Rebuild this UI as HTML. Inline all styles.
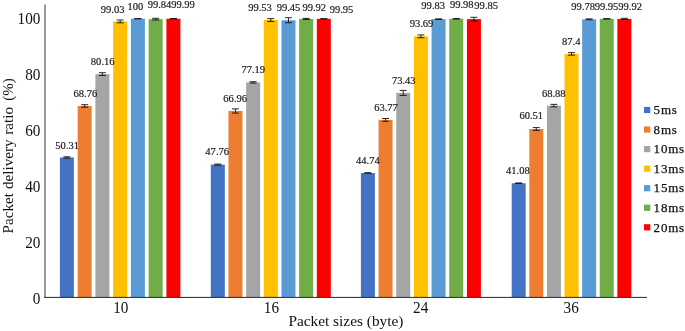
<!DOCTYPE html><html><head><meta charset="utf-8"><style>html,body{margin:0;padding:0;background:#fff}svg{display:block;will-change:transform}</style></head><body><svg width="685" height="331" viewBox="0 0 685 331">
<rect width="685" height="331" fill="#fff"/>
<rect x="59.90" y="157.48" width="14" height="139.52" fill="#4472C4"/>
<rect x="77.65" y="105.95" width="14" height="191.05" fill="#ED7D31"/>
<rect x="95.40" y="74.11" width="14" height="222.89" fill="#A5A5A5"/>
<rect x="113.15" y="21.41" width="14" height="275.59" fill="#FFC000"/>
<rect x="130.90" y="18.70" width="14" height="278.30" fill="#5B9BD5"/>
<rect x="148.65" y="19.15" width="14" height="277.85" fill="#70AD47"/>
<rect x="166.40" y="18.73" width="14" height="278.27" fill="#FF0000"/>
<rect x="210.80" y="164.61" width="14" height="132.39" fill="#4472C4"/>
<rect x="228.47" y="110.98" width="14" height="186.02" fill="#ED7D31"/>
<rect x="246.14" y="82.41" width="14" height="214.59" fill="#A5A5A5"/>
<rect x="263.81" y="20.01" width="14" height="276.99" fill="#FFC000"/>
<rect x="281.48" y="20.24" width="14" height="276.76" fill="#5B9BD5"/>
<rect x="299.15" y="18.92" width="14" height="278.08" fill="#70AD47"/>
<rect x="316.82" y="18.84" width="14" height="278.16" fill="#FF0000"/>
<rect x="360.90" y="173.04" width="14" height="123.96" fill="#4472C4"/>
<rect x="378.57" y="119.89" width="14" height="177.11" fill="#ED7D31"/>
<rect x="396.24" y="92.91" width="14" height="204.09" fill="#A5A5A5"/>
<rect x="413.91" y="36.32" width="14" height="260.68" fill="#FFC000"/>
<rect x="431.58" y="19.17" width="14" height="277.83" fill="#5B9BD5"/>
<rect x="449.25" y="18.76" width="14" height="278.24" fill="#70AD47"/>
<rect x="466.92" y="19.12" width="14" height="277.88" fill="#FF0000"/>
<rect x="511.70" y="183.26" width="14" height="113.74" fill="#4472C4"/>
<rect x="529.31" y="129.00" width="14" height="168.00" fill="#ED7D31"/>
<rect x="546.92" y="105.62" width="14" height="191.38" fill="#A5A5A5"/>
<rect x="564.53" y="53.89" width="14" height="243.11" fill="#FFC000"/>
<rect x="582.14" y="19.31" width="14" height="277.69" fill="#5B9BD5"/>
<rect x="599.75" y="18.84" width="14" height="278.16" fill="#70AD47"/>
<rect x="617.36" y="18.92" width="14" height="278.08" fill="#FF0000"/>
<path d="M66.90 156.79V158.18M63.40 156.79H70.40M63.40 158.18H70.40" stroke="#111" stroke-width="0.9" fill="none"/>
<text transform="translate(67.20,148.50) scale(0.94,1)" font-family="Liberation Serif, serif" font-size="11.2" fill="#1a1a1a" stroke="#1a1a1a" stroke-width="0.2" text-anchor="middle">50.31</text>
<path d="M84.65 104.70V107.21M81.15 104.70H88.15M81.15 107.21H88.15" stroke="#111" stroke-width="0.9" fill="none"/>
<text transform="translate(85.35,96.80) scale(0.94,1)" font-family="Liberation Serif, serif" font-size="11.2" fill="#1a1a1a" stroke="#1a1a1a" stroke-width="0.2" text-anchor="middle">68.76</text>
<path d="M102.40 72.72V75.51M98.90 72.72H105.90M98.90 75.51H105.90" stroke="#111" stroke-width="0.9" fill="none"/>
<text transform="translate(102.70,65.20) scale(0.94,1)" font-family="Liberation Serif, serif" font-size="11.2" fill="#1a1a1a" stroke="#1a1a1a" stroke-width="0.2" text-anchor="middle">80.16</text>
<path d="M120.15 20.01V22.81M116.65 20.01H123.65M116.65 22.81H123.65" stroke="#111" stroke-width="0.9" fill="none"/>
<text transform="translate(112.65,12.80) scale(0.94,1)" font-family="Liberation Serif, serif" font-size="11.2" fill="#1a1a1a" stroke="#1a1a1a" stroke-width="0.2" text-anchor="middle">99.03</text>
<path d="M137.90 18.70V18.70M134.40 18.70H141.40M134.40 18.70H141.40" stroke="#111" stroke-width="0.9" fill="none"/>
<text transform="translate(135.45,10.00) scale(0.94,1)" font-family="Liberation Serif, serif" font-size="11.2" fill="#1a1a1a" stroke="#1a1a1a" stroke-width="0.2" text-anchor="middle">100</text>
<path d="M155.65 18.31V19.98M152.15 18.31H159.15M152.15 19.98H159.15" stroke="#111" stroke-width="0.9" fill="none"/>
<text transform="translate(159.50,8.10) scale(0.94,1)" font-family="Liberation Serif, serif" font-size="11.2" fill="#1a1a1a" stroke="#1a1a1a" stroke-width="0.2" text-anchor="middle">99.84</text>
<path d="M173.40 18.73V18.73M169.90 18.73H176.90M169.90 18.73H176.90" stroke="#111" stroke-width="0.9" fill="none"/>
<text transform="translate(183.00,8.10) scale(0.94,1)" font-family="Liberation Serif, serif" font-size="11.2" fill="#1a1a1a" stroke="#1a1a1a" stroke-width="0.2" text-anchor="middle">99.99</text>
<path d="M217.80 164.05V165.16M214.30 164.05H221.30M214.30 165.16H221.30" stroke="#111" stroke-width="0.9" fill="none"/>
<text transform="translate(217.20,155.00) scale(0.94,1)" font-family="Liberation Serif, serif" font-size="11.2" fill="#1a1a1a" stroke="#1a1a1a" stroke-width="0.2" text-anchor="middle">47.76</text>
<path d="M235.47 108.89V113.08M231.97 108.89H238.97M231.97 113.08H238.97" stroke="#111" stroke-width="0.9" fill="none"/>
<text transform="translate(235.20,101.50) scale(0.94,1)" font-family="Liberation Serif, serif" font-size="11.2" fill="#1a1a1a" stroke="#1a1a1a" stroke-width="0.2" text-anchor="middle">66.96</text>
<path d="M253.14 81.71V83.11M249.64 81.71H256.64M249.64 83.11H256.64" stroke="#111" stroke-width="0.9" fill="none"/>
<text transform="translate(253.30,73.00) scale(0.94,1)" font-family="Liberation Serif, serif" font-size="11.2" fill="#1a1a1a" stroke="#1a1a1a" stroke-width="0.2" text-anchor="middle">77.19</text>
<path d="M270.81 18.62V21.41M267.31 18.62H274.31M267.31 21.41H274.31" stroke="#111" stroke-width="0.9" fill="none"/>
<text transform="translate(260.00,11.30) scale(0.94,1)" font-family="Liberation Serif, serif" font-size="11.2" fill="#1a1a1a" stroke="#1a1a1a" stroke-width="0.2" text-anchor="middle">99.53</text>
<path d="M288.48 17.72V22.75M284.98 17.72H291.98M284.98 22.75H291.98" stroke="#111" stroke-width="0.9" fill="none"/>
<text transform="translate(288.50,11.30) scale(0.94,1)" font-family="Liberation Serif, serif" font-size="11.2" fill="#1a1a1a" stroke="#1a1a1a" stroke-width="0.2" text-anchor="middle">99.45</text>
<path d="M306.15 18.36V19.48M302.65 18.36H309.65M302.65 19.48H309.65" stroke="#111" stroke-width="0.9" fill="none"/>
<text transform="translate(314.30,11.30) scale(0.94,1)" font-family="Liberation Serif, serif" font-size="11.2" fill="#1a1a1a" stroke="#1a1a1a" stroke-width="0.2" text-anchor="middle">99.92</text>
<path d="M323.82 18.84V18.84M320.32 18.84H327.32M320.32 18.84H327.32" stroke="#111" stroke-width="0.9" fill="none"/>
<text transform="translate(341.50,12.90) scale(0.94,1)" font-family="Liberation Serif, serif" font-size="11.2" fill="#1a1a1a" stroke="#1a1a1a" stroke-width="0.2" text-anchor="middle">99.95</text>
<path d="M367.90 172.76V173.32M364.40 172.76H371.40M364.40 173.32H371.40" stroke="#111" stroke-width="0.9" fill="none"/>
<text transform="translate(367.90,163.80) scale(0.94,1)" font-family="Liberation Serif, serif" font-size="11.2" fill="#1a1a1a" stroke="#1a1a1a" stroke-width="0.2" text-anchor="middle">44.74</text>
<path d="M385.57 118.49V121.29M382.07 118.49H389.07M382.07 121.29H389.07" stroke="#111" stroke-width="0.9" fill="none"/>
<text transform="translate(386.00,110.70) scale(0.94,1)" font-family="Liberation Serif, serif" font-size="11.2" fill="#1a1a1a" stroke="#1a1a1a" stroke-width="0.2" text-anchor="middle">63.77</text>
<path d="M403.24 90.40V95.42M399.74 90.40H406.74M399.74 95.42H406.74" stroke="#111" stroke-width="0.9" fill="none"/>
<text transform="translate(403.80,83.80) scale(0.94,1)" font-family="Liberation Serif, serif" font-size="11.2" fill="#1a1a1a" stroke="#1a1a1a" stroke-width="0.2" text-anchor="middle">73.43</text>
<path d="M420.91 34.93V37.72M417.41 34.93H424.41M417.41 37.72H424.41" stroke="#111" stroke-width="0.9" fill="none"/>
<text transform="translate(421.50,26.60) scale(0.94,1)" font-family="Liberation Serif, serif" font-size="11.2" fill="#1a1a1a" stroke="#1a1a1a" stroke-width="0.2" text-anchor="middle">93.69</text>
<path d="M438.58 18.90V19.45M435.08 18.90H442.08M435.08 19.45H442.08" stroke="#111" stroke-width="0.9" fill="none"/>
<text transform="translate(433.20,8.70) scale(0.94,1)" font-family="Liberation Serif, serif" font-size="11.2" fill="#1a1a1a" stroke="#1a1a1a" stroke-width="0.2" text-anchor="middle">99.83</text>
<path d="M456.25 18.48V19.04M452.75 18.48H459.75M452.75 19.04H459.75" stroke="#111" stroke-width="0.9" fill="none"/>
<text transform="translate(461.80,8.20) scale(0.94,1)" font-family="Liberation Serif, serif" font-size="11.2" fill="#1a1a1a" stroke="#1a1a1a" stroke-width="0.2" text-anchor="middle">99.98</text>
<path d="M473.92 17.30V20.93M470.42 17.30H477.42M470.42 20.93H477.42" stroke="#111" stroke-width="0.9" fill="none"/>
<text transform="translate(486.20,8.70) scale(0.94,1)" font-family="Liberation Serif, serif" font-size="11.2" fill="#1a1a1a" stroke="#1a1a1a" stroke-width="0.2" text-anchor="middle">99.85</text>
<path d="M518.70 182.98V183.54M515.20 182.98H522.20M515.20 183.54H522.20" stroke="#111" stroke-width="0.9" fill="none"/>
<text transform="translate(517.90,174.20) scale(0.94,1)" font-family="Liberation Serif, serif" font-size="11.2" fill="#1a1a1a" stroke="#1a1a1a" stroke-width="0.2" text-anchor="middle">41.08</text>
<path d="M536.31 127.60V130.39M532.81 127.60H539.81M532.81 130.39H539.81" stroke="#111" stroke-width="0.9" fill="none"/>
<text transform="translate(531.30,119.40) scale(0.94,1)" font-family="Liberation Serif, serif" font-size="11.2" fill="#1a1a1a" stroke="#1a1a1a" stroke-width="0.2" text-anchor="middle">60.51</text>
<path d="M553.92 104.36V106.88M550.42 104.36H557.42M550.42 106.88H557.42" stroke="#111" stroke-width="0.9" fill="none"/>
<text transform="translate(553.80,96.90) scale(0.94,1)" font-family="Liberation Serif, serif" font-size="11.2" fill="#1a1a1a" stroke="#1a1a1a" stroke-width="0.2" text-anchor="middle">68.88</text>
<path d="M571.53 52.63V55.15M568.03 52.63H575.03M568.03 55.15H575.03" stroke="#111" stroke-width="0.9" fill="none"/>
<text transform="translate(571.30,44.70) scale(0.94,1)" font-family="Liberation Serif, serif" font-size="11.2" fill="#1a1a1a" stroke="#1a1a1a" stroke-width="0.2" text-anchor="middle">87.4</text>
<path d="M589.14 18.90V19.73M585.64 18.90H592.64M585.64 19.73H592.64" stroke="#111" stroke-width="0.9" fill="none"/>
<text transform="translate(583.20,10.30) scale(0.94,1)" font-family="Liberation Serif, serif" font-size="11.2" fill="#1a1a1a" stroke="#1a1a1a" stroke-width="0.2" text-anchor="middle">99.78</text>
<path d="M606.75 18.70V18.98M603.25 18.70H610.25M603.25 18.98H610.25" stroke="#111" stroke-width="0.9" fill="none"/>
<text transform="translate(606.50,10.30) scale(0.94,1)" font-family="Liberation Serif, serif" font-size="11.2" fill="#1a1a1a" stroke="#1a1a1a" stroke-width="0.2" text-anchor="middle">99.95</text>
<path d="M624.36 18.36V19.48M620.86 18.36H627.86M620.86 19.48H627.86" stroke="#111" stroke-width="0.9" fill="none"/>
<text transform="translate(630.10,10.30) scale(0.94,1)" font-family="Liberation Serif, serif" font-size="11.2" fill="#1a1a1a" stroke="#1a1a1a" stroke-width="0.2" text-anchor="middle">99.92</text>
<path d="M45.0 4.5V297.9" stroke="#4d4d4d" stroke-width="1.15" fill="none"/>
<path d="M44.4 297.4H647" stroke="#262626" stroke-width="1.0" fill="none"/>
<text transform="translate(40.4,303.90) scale(0.94,1)" font-family="Liberation Serif, serif" font-size="16.2" fill="#111" text-anchor="end">0</text>
<text transform="translate(40.4,247.90) scale(0.94,1)" font-family="Liberation Serif, serif" font-size="16.2" fill="#111" text-anchor="end">20</text>
<text transform="translate(40.4,191.90) scale(0.94,1)" font-family="Liberation Serif, serif" font-size="16.2" fill="#111" text-anchor="end">40</text>
<text transform="translate(40.4,135.90) scale(0.94,1)" font-family="Liberation Serif, serif" font-size="16.2" fill="#111" text-anchor="end">60</text>
<text transform="translate(40.4,79.90) scale(0.94,1)" font-family="Liberation Serif, serif" font-size="16.2" fill="#111" text-anchor="end">80</text>
<text transform="translate(40.4,23.90) scale(0.94,1)" font-family="Liberation Serif, serif" font-size="16.2" fill="#111" text-anchor="end">100</text>
<text transform="translate(120.75,312.7) scale(0.94,1)" font-family="Liberation Serif, serif" font-size="16.2" fill="#111" text-anchor="middle">10</text>
<text transform="translate(271.41,312.7) scale(0.94,1)" font-family="Liberation Serif, serif" font-size="16.2" fill="#111" text-anchor="middle">16</text>
<text transform="translate(420.71,312.7) scale(0.94,1)" font-family="Liberation Serif, serif" font-size="16.2" fill="#111" text-anchor="middle">24</text>
<text transform="translate(571.13,312.7) scale(0.94,1)" font-family="Liberation Serif, serif" font-size="16.2" fill="#111" text-anchor="middle">36</text>
<text x="345.9" y="326" font-family="Liberation Serif, serif" font-size="15.35" fill="#111" text-anchor="middle">Packet sizes (byte)</text>
<text transform="translate(12.9,233.4) rotate(-90)" font-family="Liberation Serif, serif" font-size="15.1" fill="#111">Packet<tspan dx="0.4"> delivery</tspan><tspan dx="1.1"> ratio</tspan><tspan dx="2.4"> (%)</tspan></text>
<rect x="644" y="106.90" width="6.3" height="6.2" fill="#4472C4"/>
<text x="653.6" y="114.20" font-family="Liberation Serif, serif" font-size="13" letter-spacing="0.8" fill="#111" stroke="#111" stroke-width="0.25">5ms</text>
<rect x="644" y="126.45" width="6.3" height="6.2" fill="#ED7D31"/>
<text x="653.6" y="133.75" font-family="Liberation Serif, serif" font-size="13" letter-spacing="0.8" fill="#111" stroke="#111" stroke-width="0.25">8ms</text>
<rect x="644" y="146.00" width="6.3" height="6.2" fill="#A5A5A5"/>
<text x="653.6" y="153.30" font-family="Liberation Serif, serif" font-size="13" letter-spacing="0.8" fill="#111" stroke="#111" stroke-width="0.25">10ms</text>
<rect x="644" y="165.55" width="6.3" height="6.2" fill="#FFC000"/>
<text x="653.6" y="172.85" font-family="Liberation Serif, serif" font-size="13" letter-spacing="0.8" fill="#111" stroke="#111" stroke-width="0.25">13ms</text>
<rect x="644" y="185.10" width="6.3" height="6.2" fill="#5B9BD5"/>
<text x="653.6" y="192.40" font-family="Liberation Serif, serif" font-size="13" letter-spacing="0.8" fill="#111" stroke="#111" stroke-width="0.25">15ms</text>
<rect x="644" y="204.65" width="6.3" height="6.2" fill="#70AD47"/>
<text x="653.6" y="211.95" font-family="Liberation Serif, serif" font-size="13" letter-spacing="0.8" fill="#111" stroke="#111" stroke-width="0.25">18ms</text>
<rect x="644" y="224.20" width="6.3" height="6.2" fill="#FF0000"/>
<text x="653.6" y="231.50" font-family="Liberation Serif, serif" font-size="13" letter-spacing="0.8" fill="#111" stroke="#111" stroke-width="0.25">20ms</text>
</svg></body></html>
